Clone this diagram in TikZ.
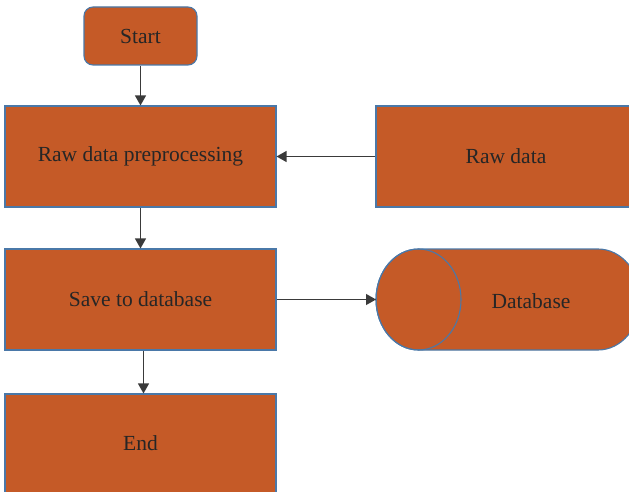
\documentclass[tikz,border=0pt]{standalone}
\usepackage{fontspec}
\setmainfont{Liberation Serif}
\usetikzlibrary{arrows.meta}
\definecolor{boxfill}{HTML}{C55A27}
\definecolor{boxline}{HTML}{4A78A8}
\definecolor{txt}{HTML}{262626}
\definecolor{arr}{HTML}{3A3A3A}
\tikzset{
  procbox/.style={draw=boxline, line width=1.1pt, fill=boxfill, text=txt, font=\fontsize{21.5}{24}\selectfont, inner sep=0pt, minimum width=271pt, minimum height=101pt},
  startbox/.style={procbox, rounded corners=9pt, minimum width=113pt, minimum height=58pt},
  cylstyle/.style={draw=boxline, line width=1.1pt, fill=boxfill},
  flow/.style={draw=arr, line width=1.2pt, -{Triangle[length=10pt,width=11pt]}},
  lbl/.style={text=txt, font=\fontsize{21.5}{24}\selectfont, inner sep=0pt}
}
\begin{document}
\begin{tikzpicture}[x=1pt,y=1pt]
\useasboundingbox (0,0) rectangle (629,491);
\node[startbox] (start) at (140.5,455) {Start};
\node[procbox] (prep) at (140.5,334.5) {Raw data preprocessing};
\node[procbox, minimum width=260pt] (raw) at (506,334.5) {Raw data};
\node[procbox] (save) at (140.5,191.5) {Save to database};
\node[procbox, text depth=3pt] (end) at (140.5,46.5) {End};
% database cylinder
\path[cylstyle] (598,242) -- (418.5,242)
  arc[start angle=90, end angle=270, x radius=42.5, y radius=50.5]
  -- (598,141)
  arc[start angle=-90, end angle=90, x radius=42.5, y radius=50.5] -- cycle;
\draw[boxline, line width=1.1pt] (418.5,191.5) ellipse [x radius=42.5, y radius=50.5];
\coordinate (dbleft) at (376,191.5);
\node[lbl] (db) at (531,189.5) {Database};
\draw[flow] (start.south) -- (prep.north);
\draw[flow] (raw.west) -- (prep.east);
\draw[flow] (prep.south) -- (save.north);
\draw[flow] (save.east) -- (dbleft);
\draw[flow] ([xshift=3pt]save.south) -- ([xshift=3pt]end.north);
\end{tikzpicture}
\end{document}
